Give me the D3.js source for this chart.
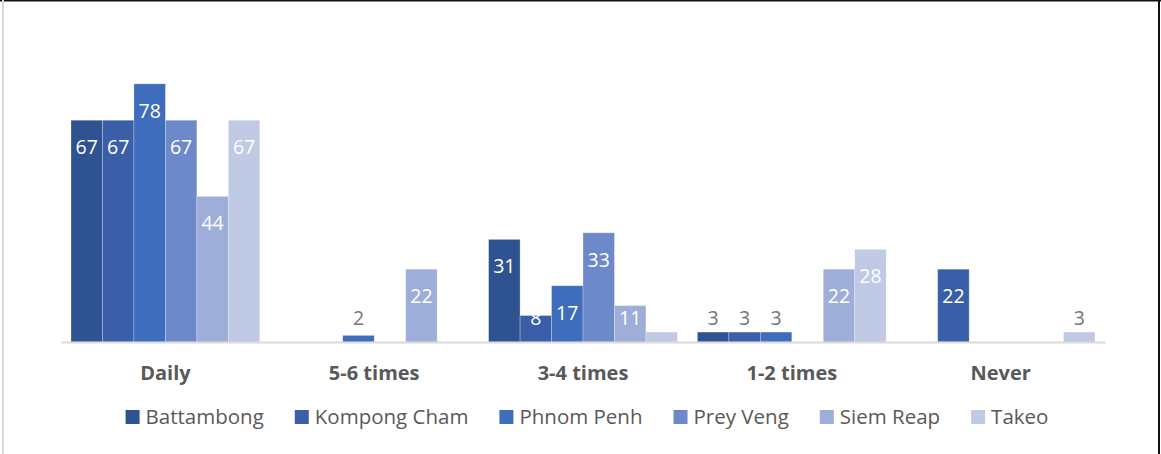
<!DOCTYPE html>
<html>
<head>
<meta charset="utf-8">
<script src="https://cdn.jsdelivr.net/npm/d3@7"></script>
<style>
  body { margin: 0; background: #fff; }
  svg { display: block; font-family: "Open Sans", Lato, sans-serif; }
</style>
</head>
<body>
<div id="chart"></div>
<script>
// Data
const categories = ["Daily", "5-6 times", "3-4 times", "1-2 times", "Never"];
const provinces = ["Battambong", "Kompong Cham", "Phnom Penh", "Prey Veng", "Siem Reap", "Takeo"];
const battambong = [67, 0, 31, 3, 0];
const kompongCham = [67, 0, 8, 3, 22];
const phnomPenh = [78, 2, 17, 3, 0];
const preyVeng = [67, 0, 33, 0, 0];
const siemReap = [44, 22, 11, 22, 0];
const takeo = [67, 0, 3, 28, 3];
const hiddenLabels = [["3-4 times", "Takeo"]];
const colors = ["#2f5290", "#3a5fa8", "#3f6dbd", "#6d89ca", "#9eaed9", "#c1cae5"];

const seriesValues = [battambong, kompongCham, phnomPenh, preyVeng, siemReap, takeo];

const width = 1161;
const height = 454;
const margin = { left: 61, right: 56, top: 11, bottom: 112 };

const svg = d3
  .select("#chart")
  .append("svg")
  .attr("width", width)
  .attr("height", height);

// frame
svg.append("line").attr("x1", 0).attr("x2", width).attr("y1", 0.5).attr("y2", 0.5)
  .attr("stroke", "#111").attr("stroke-width", 2);
svg.append("line").attr("x1", 3).attr("x2", 3).attr("y1", 0).attr("y2", height)
  .attr("stroke", "#d9d9d9").attr("stroke-width", 2);
svg.append("line").attr("x1", 1159).attr("x2", 1159).attr("y1", 0).attr("y2", height)
  .attr("stroke", "#111").attr("stroke-width", 2);

const xScale = d3
  .scaleBand()
  .domain(categories)
  .range([margin.left, width - margin.right]);

const innerScale = d3
  .scaleBand()
  .domain(provinces)
  .range([10, xScale.bandwidth() - 10]);

const yScale = d3
  .scaleLinear()
  .domain([0, 100])
  .range([height - margin.bottom, margin.top]);

const data = [];
categories.forEach((c, ci) => {
  provinces.forEach((p, pi) => {
    data.push({ category: c, province: p, value: seriesValues[pi][ci], color: colors[pi] });
  });
});

// bars
svg
  .append("g")
  .selectAll("rect")
  .data(data.filter((d) => d.value > 0))
  .join("rect")
  .attr("x", (d) => xScale(d.category) + innerScale(d.province))
  .attr("y", (d) => yScale(d.value))
  .attr("width", innerScale.bandwidth())
  .attr("height", (d) => yScale(0) - yScale(d.value))
  .attr("fill", (d) => d.color)
  .attr("stroke", "rgba(255,255,255,0.35)")
  .attr("stroke-width", 0.75);

// x axis
const xAxis = svg
  .append("g")
  .attr("transform", `translate(0, ${yScale(0)})`)
  .call(d3.axisBottom(xScale).tickSize(0).tickPadding(24));
xAxis.select(".domain").attr("stroke", "#d9d9d9").attr("stroke-width", 2);
xAxis
  .selectAll("text")
  .attr("fill", "#595959")
  .attr("font-size", 20)
  .attr("font-weight", "bold")
  .attr("font-family", "'Open Sans', sans-serif");

// labels
const isHidden = (d) => hiddenLabels.some((h) => h[0] === d.category && h[1] === d.province);
svg
  .append("g")
  .selectAll("text")
  .data(data.filter((d) => d.value > 0 && !isHidden(d)))
  .join("text")
  .attr("x", (d) => xScale(d.category) + innerScale(d.province) + innerScale.bandwidth() / 2)
  .attr("y", (d) => Math.min(yScale(d.value) + 27, yScale(0) - 24))
  .attr("dy", "0.35em")
  .attr("text-anchor", "middle")
  .attr("font-size", 19.5)
  .attr("fill", (d) => (d.value >= 8 ? "#fff" : "#767676"))
  .text((d) => d.value);

// legend
const legend = svg.append("g");
const items = legend
  .selectAll("g")
  .data(provinces)
  .join("g");
items
  .append("rect")
  .attr("width", 14)
  .attr("height", 14)
  .attr("y", -7)
  .attr("fill", (d, i) => colors[i]);
items
  .append("text")
  .attr("x", 20)
  .attr("dy", "0.35em")
  .attr("font-size", 20.5)
  .attr("fill", "#595959")
  .text((d) => d);

let offset = 0;
items.each(function () {
  const g = d3.select(this);
  g.attr("transform", `translate(${offset}, 0)`);
  offset += 20 + g.select("text").node().getComputedTextLength() + 31;
});
const legendWidth = offset - 31;
legend.attr("transform", `translate(${(margin.left + width - margin.right) / 2 - legendWidth / 2 + 4}, 417)`);
</script>
</body>
</html>
